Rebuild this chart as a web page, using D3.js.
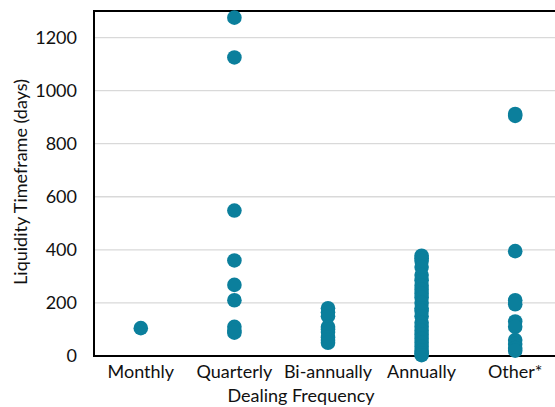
<!DOCTYPE html>
<html><head><meta charset="utf-8">
<script src="https://cdn.jsdelivr.net/npm/d3@7"></script>
<style>body{margin:0;background:#fff}svg{display:block}text{font-family:Lato,"Open Sans",sans-serif}</style>
</head><body>
<svg id="c" width="555" height="407"></svg>
<script>
const categories = ["Monthly","Quarterly","Bi-annually","Annually","Other*"];
const monthly = [105];
const quarterly = [1275,1125,548,360,268,210,110,95,88];
const biannually = [180,165,150,110,100,90,70,60,50];
const annually = [378,368,358,335,305,285,265,250,235,220,200,180,170,150,125,110,95,80,65,50,35,20,10,3];
const other = [912,905,395,210,195,130,110,60,45,30,20];
const yTicks = [0,200,400,600,800,1000,1200];
const seriesValues = [monthly,quarterly,biannually,annually,other];

const svg = d3.select("#c");
const m = {l:94, t:11, b:356, r:562};
const x = d3.scaleBand().domain(categories).range([m.l, m.r]);
const y = d3.scaleLinear().domain([0,1300]).range([m.b, m.t]);
const color = "#0b7f9c";
const fs = 18;

// gridlines
svg.append("g").selectAll("line").data(yTicks.filter(d=>d>0)).join("line")
  .attr("x1", m.l).attr("x2", 555).attr("y1", d=>y(d)).attr("y2", d=>y(d))
  .attr("stroke", "#d9d9d9").attr("stroke-width", 1.3);

// y axis
const ya = svg.append("g").attr("transform", `translate(${m.l},0)`)
  .call(d3.axisLeft(y).tickValues(yTicks).tickFormat(d3.format("d")).tickSize(0).tickPadding(17));
ya.select(".domain").remove();
ya.selectAll("text").attr("font-size", fs).attr("fill", "#111").style("font-family","Lato,sans-serif");

// x axis
const xa = svg.append("g").attr("transform", `translate(0,${m.b})`)
  .call(d3.axisBottom(x).tickSize(0).tickPadding(9));
xa.select(".domain").remove();
xa.selectAll("text").attr("font-size", fs).attr("fill", "#111").style("font-family","Lato,sans-serif");

// frame
svg.append("line").attr("x1", m.l).attr("x2", m.l).attr("y1", m.t).attr("y2", m.b).attr("stroke","#000").attr("stroke-width",2);
svg.append("line").attr("x1", m.l-1).attr("x2", 555).attr("y1", m.b).attr("y2", m.b).attr("stroke","#000").attr("stroke-width",2);
svg.append("line").attr("x1", m.l-1).attr("x2", 555).attr("y1", m.t).attr("y2", m.t).attr("stroke","#000").attr("stroke-width",2);

// points
const pts = [];
categories.forEach((c,i)=>seriesValues[i].forEach(v=>pts.push({c,v})));
svg.append("g").selectAll("circle").data(pts).join("circle")
  .attr("cx", d=>x(d.c)+x.bandwidth()/2).attr("cy", d=>y(d.v)).attr("r", 7.3)
  .attr("fill", color);

// titles
svg.append("text").attr("x", 301).attr("y", 402).attr("text-anchor","middle")
  .attr("font-size", fs).attr("fill","#111").text("Dealing Frequency");
svg.append("text").attr("transform", "translate(27,182) rotate(-90)").attr("text-anchor","middle")
  .attr("font-size", fs).attr("fill","#111").text("Liquidity Timeframe (days)");
</script>
</body></html>
